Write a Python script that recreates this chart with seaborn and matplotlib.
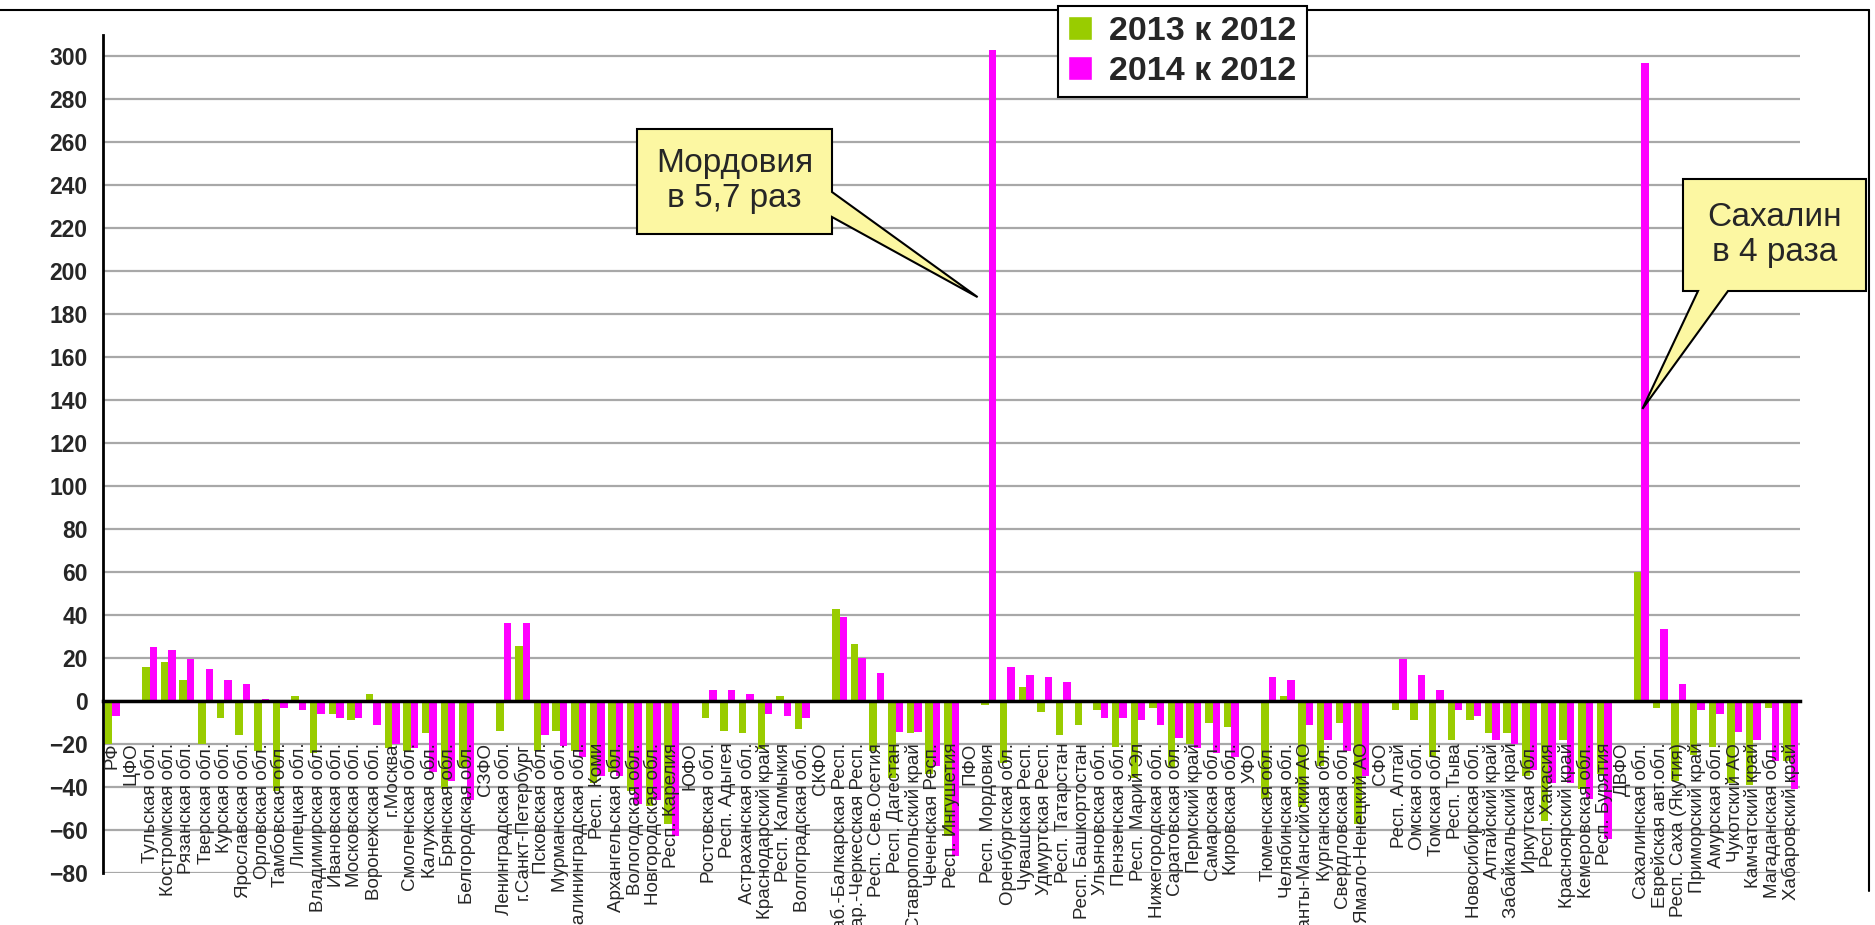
import numpy as np
import pandas as pd
import matplotlib.pyplot as plt
import seaborn as sns
from matplotlib.patches import Patch, Polygon
from matplotlib.lines import Line2D

# regions in the order they stand on the x axis
regions = [
    "РФ", "ЦФО", "Тульская обл.", "Костромская обл.", "Рязанская обл.", "Тверская обл.",
    "Курская обл.", "Ярославская обл.", "Орловская обл.", "Тамбовская обл.", "Липецкая обл.",
    "Владимирская обл.", "Ивановская обл.", "Московская обл.", "Воронежская обл.", "г.Москва",
    "Смоленская обл.", "Калужская обл.", "Брянская обл.", "Белгородская обл.", "СЗФО",
    "Ленинградская обл.", "г.Санкт-Петербург", "Псковская обл.", "Мурманская обл.",
    "Калининградская обл.", "Респ. Коми", "Архангельская обл.", "Вологодская обл.",
    "Новгородская обл.", "Респ. Карелия", "ЮФО",
    "Ростовская обл.", "Респ. Адыгея", "Астраханская обл.", "Краснодарский край",
    "Респ. Калмыкия", "Волгоградская обл.", "СКФО", "Каб.-Балкарская Респ.",
    "Кар.-Черкесская Респ.", "Респ. Сев.Осетия", "Респ. Дагестан", "Ставропольский край",
    "Чеченская Респ.", "Респ. Ингушетия", "ПФО",
    "Респ. Мордовия", "Оренбургская обл.", "Чувашская Респ.", "Удмуртская Респ.",
    "Респ. Татарстан", "Респ. Башкортостан", "Ульяновская обл.", "Пензенская обл.",
    "Респ. Марий Эл", "Нижегородская обл.", "Саратовская обл.", "Пермский край",
    "Самарская обл.", "Кировская обл.", "УФО", "Тюменская обл.",
    "Челябинская обл.", "Ханты-Мансийский АО", "Курганская обл.", "Свердловская обл.",
    "Ямало-Ненецкий АО", "СФО", "Респ. Алтай", "Омская обл.", "Томская обл.", "Респ. Тыва",
    "Новосибирская обл.", "Алтайский край", "Забайкальский край", "Иркутская обл.",
    "Респ. Хакасия",
    "Красноярский край", "Кемеровская обл.", "Респ. Бурятия", "ДВФО", "Сахалинская обл.",
    "Еврейская авт.обл.", "Респ. Саха (Якутия)", "Приморский край", "Амурская обл.",
    "Чукотский АО", "Камчатский край", "Магаданская обл.", "Хабаровский край",
]

nan = np.nan
# 2013 к 2012, %
v2013 = [
    -20, nan, 16, 18, 10, -20, -8, -16, -23, -42, 2.5, -24, -6, -9, 3.5, -22,
    -23, -14.7, -41, -31, nan, -14, 25.5, -23, -14, -23, -38, -33, -42, -49, -57, nan,
    -8, -14, -15, -22.5, 2.5, -13, nan, 43, 26.5, -23, -36, -15, -34, -63, nan,
    -2, -29, 6.5, -5, -16, -11, -4, -21.5, -36, -3, -31, -20, -10, -12, nan, -45.5,
    2.5, -49.5, -30, -10, -57, nan, -4, -9, -26, -18, -9, -15, -15, -35, -56,
    -18, -41, -34, nan, 60, -3, -37, -25, -21.5, -38, -39, -3, -28,
]
# 2014 к 2012, %
v2014 = [
    -7, nan, 25, 24, 19.5, 15, 10, 8, 1, -3, -4, -6, -8, -8, -11, -20,
    -22, -33, -37, -46, nan, 36.5, 36.5, -16, -21, -26, -35, -35, -48, -46, -63, nan,
    5.2, 5.2, 3.5, -6, -7, -8, nan, 39, 20, 13, -14.5, -14.5, -30, -72, nan,
    303, 16, 12, 11, 9, -1, -8, -8, -9, -11, -17, -22, -24, -26, nan, 11,
    10, -11, -18, -23, -35, nan, 19.5, 12, 5, -4, -7, -18, -20, -32, -38,
    -38, -45.5, -64, nan, 297, 33.5, 8, -4, -6, -14.5, -18, -28, -41,
]

periods = ["2013 к 2012", "2014 к 2012"]
GREEN = "#99CC00"
PINK = "#FF00FF"
YELLOW = "#FCF7A2"

df = pd.DataFrame({
    "region": regions * 2,
    "period": [periods[0]] * len(regions) + [periods[1]] * len(regions),
    "value": v2013 + v2014,
}).dropna()

sns.set_style("white")
plt.rcParams["font.family"] = ["Liberation Sans", "DejaVu Sans"]

W, H = 1875, 925
fig = plt.figure(figsize=(W / 100, H / 100), dpi=100)
ax = fig.add_axes([103 / W, (H - 873) / H, (1800 - 103) / W, (873 - 35) / H])

sns.barplot(data=df, x="region", y="value", hue="period", order=regions,
            hue_order=periods, palette=[GREEN, PINK], width=0.8, saturation=1,
            errorbar=None, legend=False, linewidth=0, ax=ax)

# tick labels must sit on top of the bars, grid goes behind
ax.set_axisbelow(False)

ax.set_xlim(-0.5, len(regions) - 0.5)
ax.set_ylim(-80, 310)
yticks = np.arange(-80, 301, 20)
ax.set_yticks(yticks)
for v in yticks:
    ax.axhline(v, color="#a8a8a8", lw=1.6, zorder=0)

ax.set_xlabel("")
ax.set_ylabel("")
for s in ["top", "right"]:
    ax.spines[s].set_visible(False)
ax.spines["bottom"].set_position(("data", 0))
ax.spines["bottom"].set_linewidth(2.5)
ax.spines["left"].set_linewidth(2)
ax.spines["left"].set_color("black")
ax.spines["bottom"].set_color("black")

ax.set_xticks(np.arange(len(regions)))
ax.set_xticklabels(regions, rotation=90, fontsize=13.5)
ax.set_xticks(np.arange(-0.5, len(regions), 1), minor=True)
ax.tick_params(axis="x", which="major", length=0, pad=30)
ax.tick_params(axis="x", which="minor", length=5, width=1.5, direction="out", color="black")
ax.tick_params(axis="y", length=5, width=1.5, direction="out", color="black",
               labelsize=16.5, pad=6)
for lab in ax.get_yticklabels():
    lab.set_fontweight("bold")

# chart border
fig.add_artist(Line2D([0, 1869 / W], [1 - 10 / H] * 2, transform=fig.transFigure,
                      color="black", lw=1.5, zorder=-1))
fig.add_artist(Line2D([1869 / W] * 2, [1 - 10 / H, 1 - 891 / H], transform=fig.transFigure,
                      color="black", lw=1.5, zorder=-1))

leg = fig.legend(handles=[Patch(fc=GREEN), Patch(fc=PINK)], labels=periods,
                 loc="upper left", bbox_to_anchor=(1058 / W, 1 - 6 / H), borderaxespad=0,
                 prop={"weight": "bold", "size": 24.5}, frameon=True, fancybox=False,
                 edgecolor="black", framealpha=1, handlelength=0.7, handleheight=0.7,
                 handletextpad=0.5, borderpad=0.3, labelspacing=0.25)
leg.get_frame().set_linewidth(1.5)


def px(x, y):
    return (x / W, 1 - y / H)


def tip_at(x, y):
    return fig.transFigure.inverted().transform(ax.transData.transform((x, y)))


# callout: Мордовия
verts = [px(637, 129), px(832, 129), px(832, 192), tip_at(46.4, 188),
         px(832, 217), px(832, 234), px(637, 234)]
fig.add_artist(Polygon(verts, closed=True, transform=fig.transFigure,
                       fc=YELLOW, ec="black", lw=1.5, zorder=10))
fig.text((637 + 832) / 2 / W, 1 - 181 / H, "Мордовия\nв 5,7 раз", ha="center",
         va="center", fontsize=24, linespacing=1.15, zorder=11)

# callout: Сахалин
verts = [px(1683, 179), px(1866, 179), px(1866, 291), px(1728, 291),
         tip_at(82.05, 136), px(1698, 291), px(1683, 291)]
fig.add_artist(Polygon(verts, closed=True, transform=fig.transFigure,
                       fc=YELLOW, ec="black", lw=1.5, zorder=10))
fig.text((1683 + 1866) / 2 / W, 1 - 235 / H, "Сахалин\nв 4 раза", ha="center",
         va="center", fontsize=24, linespacing=1.2, zorder=11)

fig.savefig("out.png", dpi=100)
